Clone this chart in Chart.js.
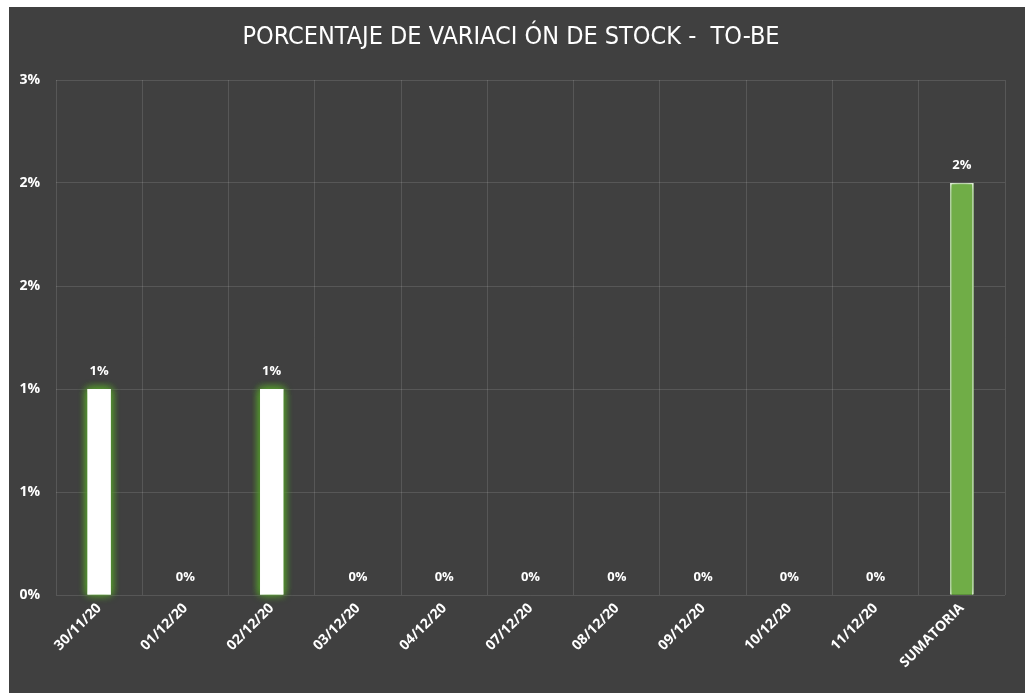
<!DOCTYPE html>
<html>
<head>
<meta charset="utf-8">
<script src="https://cdn.jsdelivr.net/npm/chart.js@4/dist/chart.umd.min.js"></script>
<style>
  html, body { margin: 0; padding: 0; background: #ffffff; width: 1025px; height: 693px; overflow: hidden; }
  #wrap { position: absolute; left: 9px; top: 7px; width: 1016px; height: 686px; background: #404040; }
  canvas { display: block; }
</style>
</head>
<body>
<div id="wrap"><canvas id="c" width="1016" height="686"></canvas></div>
<script>
const categories = ['30/11/20','01/12/20','02/12/20','03/12/20','04/12/20','07/12/20','08/12/20','09/12/20','10/12/20','11/12/20','SUMATORIA'];
const values = [1.0, 0, 1.0, 0, 0, 0, 0, 0, 0, 0, 2.0]; // percent
const yTicks = [0, 0.5, 1.0, 1.5, 2.0, 2.5];
const titleText = 'PORCENTAJE DE VARIACI ÓN DE STOCK -  TO-BE';

const fmt = v => Math.round(v + 1e-9) + '%';
const fillColors = categories.map(c => c === 'SUMATORIA' ? '#70ad47' : '#ffffff');
const borderWidths = categories.map(c => c === 'SUMATORIA' ? 1.5 : 0);

const glowPlugin = {
  id: 'glow',
  beforeDatasetsDraw(chart) {
    const ctx = chart.ctx;
    ctx.save();
    ctx.shadowColor = 'rgba(84,150,46,1)';
    ctx.shadowBlur = 9;
    const meta = chart.getDatasetMeta(0);
    meta.data.forEach(el => el.draw(ctx));
    meta.data.forEach(el => el.draw(ctx));
  },
  afterDatasetsDraw(chart) {
    chart.ctx.restore();
  }
};

const labelPlugin = {
  id: 'vlabels',
  afterDatasetsDraw(chart) {
    const ctx = chart.ctx;
    const meta = chart.getDatasetMeta(0);
    ctx.save();
    ctx.font = 'bold 13px "Open Sans", sans-serif';
    ctx.fillStyle = '#ffffff';
    ctx.textAlign = 'center';
    ctx.textBaseline = 'middle';
    meta.data.forEach((el, i) => {
      ctx.fillText(fmt(values[i]), el.x, el.y - 18);
    });
    ctx.restore();
  }
};

new Chart(document.getElementById('c'), {
  type: 'bar',
  data: {
    labels: categories,
    datasets: [{
      data: values,
      backgroundColor: fillColors,
      borderColor: '#ffffff',
      borderWidth: borderWidths,
      barPercentage: 0.27,
      categoryPercentage: 1.0
    }]
  },
  options: {
    responsive: false,
    animation: false,
    devicePixelRatio: 1,
    layout: { padding: { left: 8, right: 20, top: 0, bottom: 0 } },
    plugins: {
      legend: { display: false },
      tooltip: { enabled: false },
      title: {
        display: true,
        text: titleText,
        color: '#ffffff',
        font: { family: '"Liberation Sans Narrow", "DejaVu Sans Condensed", sans-serif', size: 25, weight: 'normal' },
        padding: { top: 15, bottom: 28 }
      }
    },
    scales: {
      x: {
        grid: { color: 'rgba(255,255,255,0.12)', drawTicks: false, offset: true },
        border: { display: false },
        ticks: {
          color: '#ffffff',
          font: { family: '"Open Sans", sans-serif', size: 14, weight: 'bold' },
          maxRotation: 45, minRotation: 45, padding: 5, autoSkip: false
        },
        afterFit(scale) { scale.height = 98; }
      },
      y: {
        min: 0, max: 2.5,
        afterBuildTicks(scale) { scale.ticks = yTicks.map(v => ({ value: v })); },
        grid: { color: 'rgba(255,255,255,0.12)', drawTicks: false },
        border: { display: false },
        ticks: {
          color: '#ffffff',
          font: { family: '"Open Sans", sans-serif', size: 14, weight: 'bold' },
          padding: 16,
          callback: v => fmt(v)
        },
        afterFit(scale) { scale.width = 39; }
      }
    }
  },
  plugins: [glowPlugin, labelPlugin]
});
</script>
</body>
</html>
